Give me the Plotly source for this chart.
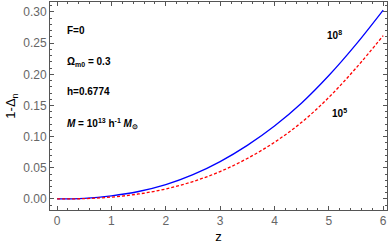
import plotly.graph_objects as go

z = [0, 0.5, 1, 1.5, 2, 2.5, 3, 3.5, 4, 4.5, 5, 5.5, 6]
blue_1e8 = [0, 0.001, 0.005, 0.012, 0.023, 0.039, 0.060, 0.086, 0.117, 0.154, 0.198, 0.248, 0.303]
red_1e5 = [0, 0.0005, 0.003, 0.008, 0.016, 0.028, 0.044, 0.065, 0.091, 0.123, 0.163, 0.210, 0.262]
x_ticks = [0, 1, 2, 3, 4, 5, 6]
y_ticks = [0.00, 0.05, 0.10, 0.15, 0.20, 0.25, 0.30]
y_tick_text = ["0.00", "0.05", "0.10", "0.15", "0.20", "0.25", "0.30"]

fig = go.Figure()
fig.add_trace(go.Scatter(x=z, y=blue_1e8, mode="lines", line=dict(color="#0000ff", width=1.3, shape="spline", smoothing=1.0), showlegend=False))
fig.add_trace(go.Scatter(x=z, y=red_1e5, mode="lines", line=dict(color="#ff0000", width=1.3, dash="3px,2px", shape="spline", smoothing=1.0), showlegend=False))

axcol = "#555555"
tickfont = dict(family="Liberation Sans, Arial", size=12, color="#666666")
common = dict(showline=True, linecolor=axcol, linewidth=1, mirror="ticks", ticks="inside",
              ticklen=4, tickcolor=axcol, tickwidth=1, showgrid=False, zeroline=False,
              tickfont=tickfont, automargin=False)
fig.update_xaxes(range=[-0.13, 6.07], tickvals=x_ticks, ticktext=[str(t) for t in x_ticks],
                 minor=dict(ticks="inside", ticklen=2, tickcolor=axcol, dtick=0.2, tick0=0, showgrid=False),
                 title=dict(text="z", font=dict(family="Liberation Sans, Arial", size=13, color="#000000"), standoff=4),
                 **common)
fig.update_yaxes(range=[-0.0177, 0.316], tickvals=y_ticks, ticktext=y_tick_text,
                 minor=dict(ticks="inside", ticklen=2, tickcolor=axcol, dtick=0.01, tick0=0, showgrid=False),
                 title=dict(text="1-Δ<sub>n</sub>", font=dict(family="Liberation Sans, Arial", size=13, color="#000000"), standoff=4),
                 **common)

afont = dict(family="Liberation Sans, Arial", size=10, color="#000000")
anns = [
    (0.15, 0.271, "<b>F=0</b>"),
    (0.15, 0.219, "<b>Ω<sub>m0</sub> = 0.3</b>"),
    (0.15, 0.173, "<b>h=0.6774</b>"),
    (0.15, 0.121, "<b><i>M</i> = 10<sup>13</sup> h<sup>-1</sup> <i>M</i><sub>⊙</sub></b>"),
    (4.93, 0.263, "<b>10<sup>8</sup></b>"),
    (5.02, 0.138, "<b>10<sup>5</sup></b>"),
]
for x, y, t in anns:
    fig.add_annotation(x=x, y=y, text=t, showarrow=False, xanchor="left", yanchor="middle", font=afont)

fig.update_layout(width=390, height=250, margin=dict(l=50, r=3, t=2, b=40),
                  plot_bgcolor="white", paper_bgcolor="white")
fig.write_html("out.html", config={"displayModeBar": False},
               post_script="document.body.style.margin='0';document.body.style.overflow='hidden';")
